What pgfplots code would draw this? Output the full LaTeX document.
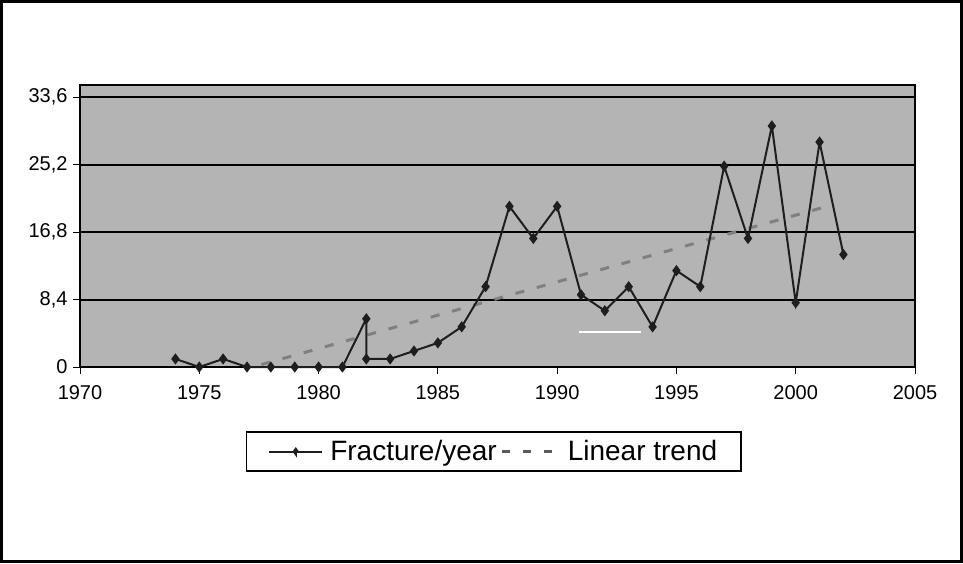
\documentclass[border=0pt]{standalone}
\usepackage{fontspec}
\setmainfont{Liberation Sans}
\usepackage{pgfplots}
\pgfplotsset{compat=1.18}
\definecolor{plotbg}{RGB}{180,180,180}
\definecolor{trendgray}{RGB}{128,128,128}
\definecolor{linedark}{RGB}{30,30,30}
\begin{document}
\begin{tikzpicture}[x=1pt,y=1pt]
\useasboundingbox (0,0) rectangle (963,563);
\draw[line width=3pt, black] (1.5,1.5) rectangle (961.5,561.5);
\begin{axis}[
  at={(80pt,196pt)}, anchor=south west,
  scale only axis, width=835pt, height=282pt,
  xmin=1970, xmax=2005, ymin=0, ymax=35.1,
  xtick={1970,1975,1980,1985,1990,1995,2000,2005},
  xticklabels={1970,1975,1980,1985,1990,1995,2000,2005},
  ytick={0,8.4,16.8,25.2,33.6},
  yticklabels={0,{8,4},{16,8},{25,2},{33,6}},
  tick label style={font=\fontsize{20}{22}\selectfont, black},
  xticklabel style={yshift=-8pt},
  yticklabel style={xshift=-2pt},
  tick align=outside, major tick length=7pt,
  tick style={black, line width=1pt},
  xtick pos=bottom, ytick pos=left,
  ymajorgrids, grid style={black, line width=2pt},
  axis line style={black, line width=1.2pt},
  axis background/.style={fill=plotbg},
  clip=false,
  legend columns=2,
  legend style={at={(0.4955,-0.3)}, anchor=center, draw=black, line width=1.5pt,
    font=\fontsize{28}{32}\selectfont, inner xsep=22pt, inner ysep=6.5pt,
    /tikz/every even column/.append style={column sep=2pt}},
  legend cell align=left,
]
\addplot[trendgray, line width=3pt, dash pattern=on 9pt off 13pt, forget plot]
  coordinates {(1977.6,0.3) (2001.2,19.9)};
\addplot[white, line width=2.5pt, forget plot]
  coordinates {(1990.9,4.35) (1993.5,4.35)};
\addplot[linedark, line width=2pt, mark=diamond*, mark size=4pt,
  mark options={solid, fill=linedark},
  legend image code/.code={
    \draw[linedark, line width=2pt] (0pt,0pt) -- (53pt,0pt);
    \fill[linedark] (26.5pt,0pt) -- ++(2pt,0) -- ++(-2pt,2.8pt) -- ++(-2pt,-2.8pt) -- ++(2pt,-2.8pt) -- cycle;
  }]
  coordinates {
  (1974,1) (1975,0) (1976,1) (1977,0) (1978,0) (1979,0) (1980,0) (1981,0)
  (1982,6) (1982,1) (1983,1) (1984,2) (1985,3) (1986,5) (1987,10) (1988,20)
  (1989,16) (1990,20) (1991,9) (1992,7) (1993,10) (1994,5) (1995,12) (1996,10)
  (1997,25) (1998,16) (1999,30) (2000,8) (2001,28) (2002,14)};
\addlegendentry{\hspace{5pt}Fracture/year}
\addlegendimage{legend image code/.code={
    \draw[trendgray!70!black, line width=3pt, dash pattern=on 8pt off 13pt] (2pt,0pt) -- (56pt,0pt);}}
\addlegendentry{\hspace{8pt}Linear trend}
\end{axis}
\end{tikzpicture}
\end{document}
